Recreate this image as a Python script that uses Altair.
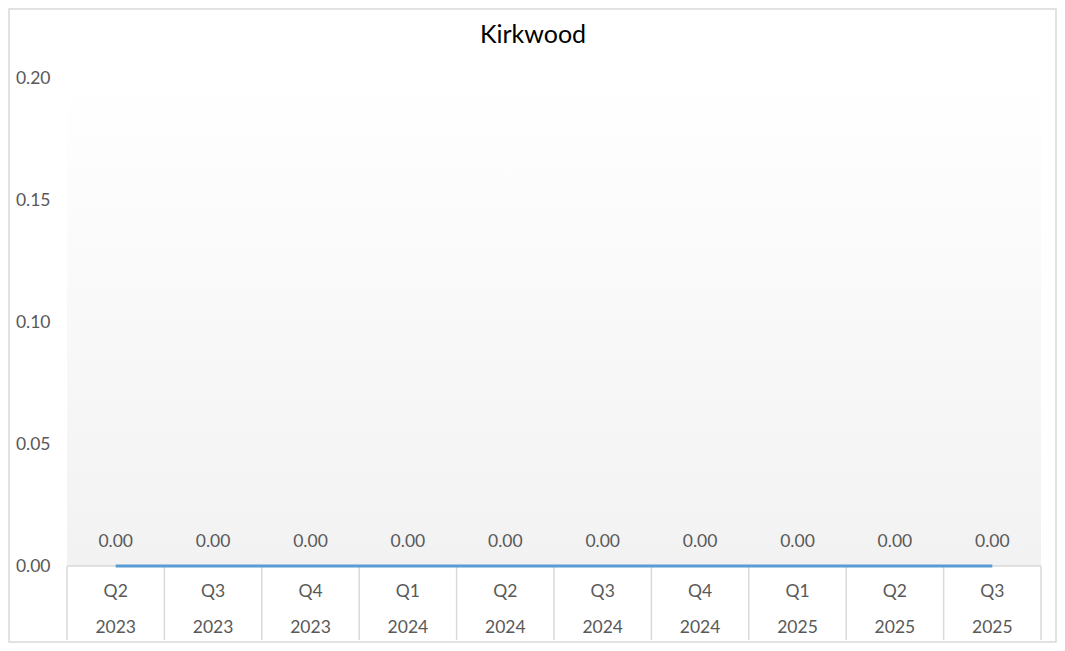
import pandas as pd
import altair as alt

# data
quarters = ["Q2", "Q3", "Q4", "Q1", "Q2", "Q3", "Q4", "Q1", "Q2", "Q3"]
years = ["2023", "2023", "2023", "2024", "2024", "2024", "2024", "2025", "2025", "2025"]
values = [0.00, 0.00, 0.00, 0.00, 0.00, 0.00, 0.00, 0.00, 0.00, 0.00]
y_ticks = [0.00, 0.05, 0.10, 0.15, 0.20]
title = "Kirkwood"

FONT = "Lato"
GREY = "#595959"
FS = 17.5
W, H = 974, 488

df = pd.DataFrame({"idx": list(range(len(values))), "quarter": quarters,
                   "year": years, "value": values})
edges = pd.DataFrame({"edge": [i - 0.5 for i in range(len(values) + 1)]})
one = pd.DataFrame({"k": [0], "title": [title]})

x_scale = alt.Scale(domain=[-0.5, len(values) - 0.5], nice=False, zero=False)
y_scale = alt.Scale(domain=[0, 0.2], nice=False)

# plot-area gradient (white at top, light grey at bottom)
bg = alt.Chart(one).mark_rect(
    color=alt.Gradient(gradient="linear", x1=0, y1=0, x2=0, y2=1,
                       stops=[alt.GradientStop(color="#ffffff", offset=0),
                              alt.GradientStop(color="#f2f2f2", offset=1)])
).encode(x=alt.value(0), x2=alt.value(W), y=alt.value(0), y2=alt.value(H))

# outer chart border
border = alt.Chart(one).mark_rect(fill=None, stroke="#d9d9d9", strokeWidth=1.5).encode(
    x=alt.value(-58), x2=alt.value(W + 15), y=alt.value(-69), y2=alt.value(H + 76))

# chart title drawn as text so the border doesn't push it off the canvas
title_text = alt.Chart(one).mark_text(font=FONT, fontSize=25, color="black",
                                      baseline="middle").encode(
    x=alt.value(466), y=alt.value(-43), text="title:N")

base = alt.Chart(df).encode(
    x=alt.X("idx:Q", scale=x_scale, axis=None),
    y=alt.Y("value:Q", scale=y_scale,
            axis=alt.Axis(values=y_ticks, format=".2f", title=None, domain=False,
                          ticks=False, grid=False, labelFont=FONT, labelFontSize=FS,
                          labelColor=GREY, labelPadding=17)),
)

baseline = alt.Chart(one).mark_rule(color="#d9d9d9", strokeWidth=1.5).encode(
    x=alt.value(0), x2=alt.value(W), y=alt.value(H))

seps = alt.Chart(edges).mark_rule(color="#d9d9d9", strokeWidth=1.5).encode(
    x=alt.X("edge:Q", scale=x_scale, axis=None), y=alt.value(H), y2=alt.value(H + 74))

line = base.mark_line(color="#5b9bd5", strokeWidth=3)

labels = base.mark_text(font=FONT, fontSize=FS, color=GREY, dy=-24).encode(
    text=alt.Text("value:Q", format=".2f"))

q_text = alt.Chart(df).mark_text(font=FONT, fontSize=FS, color=GREY, baseline="middle").encode(
    x=alt.X("idx:Q", scale=x_scale, axis=None), y=alt.value(H + 26), text="quarter:N")
y_text = alt.Chart(df).mark_text(font=FONT, fontSize=FS, color=GREY, baseline="middle").encode(
    x=alt.X("idx:Q", scale=x_scale, axis=None), y=alt.value(H + 62), text="year:N")

chart = alt.layer(bg, border, title_text, baseline, seps, line, labels, q_text, y_text).properties(
    width=W, height=H,
    autosize=alt.AutoSizeParams(type="none"),
    padding={"left": 59, "top": 70, "right": 16, "bottom": 77},
).configure_view(stroke=None)

chart.save("out.html", embed_options={"renderer": "svg", "actions": False})
